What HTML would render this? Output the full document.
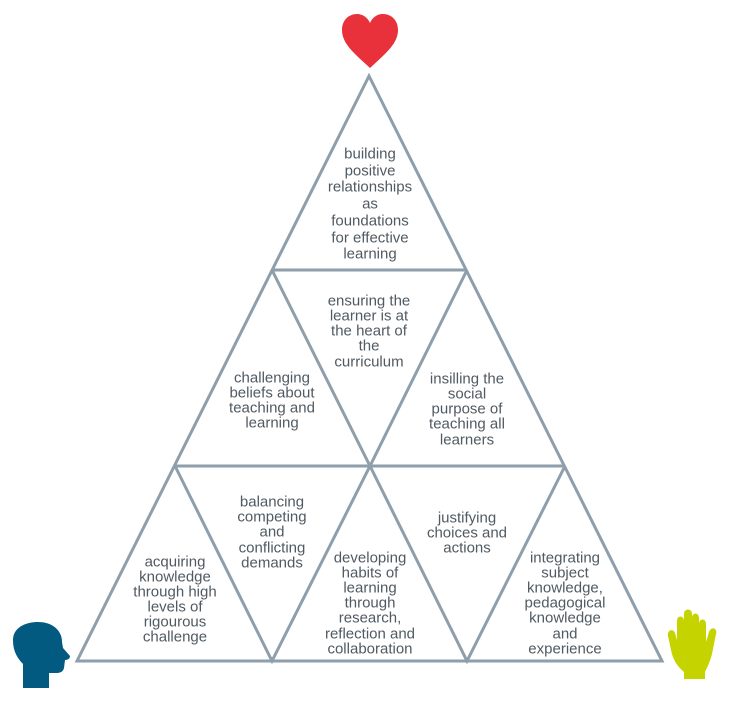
<!DOCTYPE html>
<html><head><meta charset="utf-8"><style>
html,body{margin:0;padding:0;background:#fff;}
svg{display:block;}
text{font-family:"Liberation Sans",sans-serif;font-size:15px;fill:#505a62;text-anchor:middle;dominant-baseline:central;}
</style></head><body>
<svg width="731" height="702" viewBox="0 0 731 702" xmlns="http://www.w3.org/2000/svg">
<g fill="none" stroke="#8e9eab" stroke-width="3" stroke-linejoin="miter">
<polygon points="369,76 77,661 662,661"/>
<polyline points="272,270 467,270"/>
<polyline points="175,466 565,466"/>
<polyline points="272,270 370,466 467,270"/>
<polyline points="175,466 272,661 370,466 467,661 565,466"/>
</g>
<path d="M370,68 C355,54 342,44 342,30 C342,20 349,14 357,14 C363,14 368,18 370,23 C372,18 377,14 383,14 C391,14 398,20 398,30 C398,44 385,54 370,68 Z" fill="#e8313a"/>
<path d="M23,688 L23,664 C15,656 13,648 13,640 C13,628 25,622 38,622 C52,622 62,630 62,642 L63,648 L70,656 C70,659 67,660 65,660 L64,668 C63,672 60,673 56,673 L49,673 L49,688 Z" fill="#035a80"/>
<path d="M684,679 L684,672 C677,666 673,660 671,650 L668,636 C667,630 673,628 675,633 L677,640 L677,621 C677,615 684,615 684,621 L684,614 C684,608 692,608 692,614 L692,618 C692,612 699,612 699,618 L699,624 C699,618 706,618 706,624 L706,642 L709,632 C711,626 718,628 716,634 L712,654 C710,662 707,668 705,672 L705,679 Z" fill="#c5d400"/>
<g>
<text x="370" y="154">building</text><text x="370" y="171">positive</text><text x="370" y="187">relationships</text><text x="370" y="204">as</text><text x="370" y="221">foundations</text><text x="370" y="238">for effective</text><text x="370" y="254">learning</text>
<text x="369" y="301">ensuring the</text><text x="369" y="316">learner is at</text><text x="369" y="331">the heart of</text><text x="369" y="346">the</text><text x="369" y="362">curriculum</text>
<text x="272" y="378">challenging</text><text x="272" y="393">beliefs about</text><text x="272" y="408">teaching and</text><text x="272" y="423">learning</text>
<text x="467" y="379">insilling the</text><text x="467" y="394">social</text><text x="467" y="409">purpose of</text><text x="467" y="424">teaching all</text><text x="467" y="440">learners</text>
<text x="272" y="502">balancing</text><text x="272" y="517">competing</text><text x="272" y="532">and</text><text x="272" y="548">conflicting</text><text x="272" y="563">demands</text>
<text x="175" y="562">acquiring</text><text x="175" y="577">knowledge</text><text x="175" y="592">through high</text><text x="175" y="607">levels of</text><text x="175" y="622">rigourous</text><text x="175" y="637">challenge</text>
<text x="370" y="558">developing</text><text x="370" y="573">habits of</text><text x="370" y="588">learning</text><text x="370" y="603">through</text><text x="370" y="618">research,</text><text x="370" y="634">reflection and</text><text x="370" y="649">collaboration</text>
<text x="467" y="518">justifying</text><text x="467" y="533">choices and</text><text x="467" y="548">actions</text>
<text x="565" y="558">integrating</text><text x="565" y="573">subject</text><text x="565" y="588">knowledge,</text><text x="565" y="603">pedagogical</text><text x="565" y="618">knowledge</text><text x="565" y="634">and</text><text x="565" y="649">experience</text>
</g>
</svg>
</body></html>
